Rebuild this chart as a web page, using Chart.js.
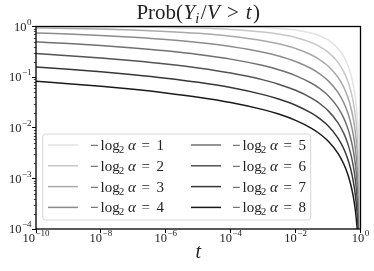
<!DOCTYPE html>
<html><head><meta charset="utf-8">
<script src="https://cdn.jsdelivr.net/npm/chart.js@4.4.0/dist/chart.umd.min.js"></script>
<style>html,body{margin:0;padding:0;background:#fff;}#wrap{width:374px;height:271px;position:relative;}</style>
</head><body><div id="wrap"><canvas id="c" width="374" height="271"></canvas></div>
<script>
// ---- data ----
const tValues = [1e-10,1e-9,1e-8,1e-7,1e-6,1e-5,1e-4,1e-3,3e-3,1e-2,0.03,0.05,0.1,0.2,0.3,0.4,0.5,0.6,0.7,0.8,0.85,0.9,0.95,0.98,0.99];
const probK1 = [0.99998,0.99995,0.99985,0.99953,0.9985,0.9953,0.985,0.9526,0.9179,0.8505,0.7428,0.6702,0.5415,0.3739,0.2606,0.1778,0.1161,0.0705,0.0378,0.0161,0.0089,0.00388,0.00095,0.00015,0.000038];
const probK2 = [0.99605,0.99297,0.9875,0.9778,0.9605,0.9297,0.875,0.7778,0.7076,0.6055,0.4829,0.4148,0.3111,0.1975,0.1304,0.0854,0.054,0.0319,0.0167,0.00697,0.0038,0.00165,0.000395,0.000063,0.0000157];
const probK3 = [0.9367,0.9156,0.8875,0.85,0.7999,0.7332,0.6442,0.5256,0.4559,0.3681,0.2767,0.2307,0.1657,0.1005,0.0645,0.0413,0.0257,0.01495,0.00774,0.0032,0.00174,0.000747,0.000181,0.0000285,0.000007];
const probK4 = [0.748,0.709,0.664,0.612,0.552,0.4826,0.4025,0.3101,0.2611,0.2037,0.1481,0.1215,0.0853,0.0505,0.0319,0.02025,0.01247,0.00721,0.00371,0.00152,0.000826,0.000354,0.0000855,0.0000134,0.0000033];
const probK5 = [0.4978,0.4603,0.4201,0.3768,0.3303,0.2804,0.2267,0.169,0.14,0.1072,0.0766,0.0623,0.0433,0.0253,0.01586,0.01001,0.00614,0.00353,0.00181,0.000742,0.000402,0.000172,0.0000415,0.0000065,0.0000016];
const probK6 = [0.2913,0.2653,0.2384,0.2105,0.1816,0.1516,0.1205,0.0883,0.0725,0.055,0.039,0.0316,0.0218,0.01265,0.0079,0.00497,0.00304,0.00175,0.000896,0.000366,0.000198,0.000085,0.0000205,0.0000032,0.0000008];
const probK7 = [0.1581,0.1428,0.1273,0.1114,0.0953,0.0789,0.0622,0.0451,0.0369,0.0279,0.01965,0.01588,0.01092,0.00632,0.00394,0.00248,0.00152,0.00087,0.000445,0.000182,0.0000985,0.0000422,0.0000101,0.0000016,0.0000004];
const probK8 = [0.0825,0.0742,0.0658,0.0574,0.0488,0.0402,0.0316,0.0228,0.01863,0.014,0.00987,0.00797,0.00547,0.00316,0.00197,0.00124,0.000756,0.000435,0.000222,0.0000906,0.0000488,0.0000209,0.000005,0.0000008,0.0000002];
const seriesKs = ['1','2','3','4','5','6','7','8'];
const xTickExponents = [-10,-8,-6,-4,-2,0];
const yTickExponents = [-4,-3,-2,-1,0];
const yMinorMultipliers = [2,3,4,5,6,7,8,9];

const allSeries = [probK1,probK2,probK3,probK4,probK5,probK6,probK7,probK8];
const grays = ['#e2e2e2','#c6c6c6','#a9a9a9','#8c8c8c','#707070','#535353','#363636','#1a1a1a'];
const SERIF = '"Liberation Serif","DejaVu Serif",serif';

const datasets = allSeries.map((s,i)=>({
  label: '-log2 alpha = ' + seriesKs[i],
  data: tValues.map((t,j)=>({x:t,y:s[j]})),
  borderColor: grays[i], backgroundColor: grays[i],
  borderWidth: 1.5, pointRadius: 0, fill: false,
  cubicInterpolationMode: 'monotone', clip: 0
}));

function drawParts(ctx, parts, x0, baseline, align){
  let total = 0;
  parts.forEach(p=>{ctx.font=p.font; p.w=ctx.measureText(p.text).width; total += p.w + (p.gap||0);});
  let x = align==='center' ? x0 - total/2 : (align==='right' ? x0 - total : x0);
  parts.forEach(p=>{ctx.font=p.font; ctx.fillText(p.text, x, baseline + (p.dy||0)); x += p.w + (p.gap||0);});
}

const decor = {
  id:'decor',
  afterDatasetsDraw(chart){
    const ctx = chart.ctx, a = chart.chartArea;
    const ys = chart.scales.y;
    ctx.save();
    ctx.strokeStyle='#000'; ctx.lineWidth=0.7;
    yTickExponents.slice(0,-1).forEach(e=>{
      yMinorMultipliers.forEach(m=>{
        const py = Math.round(ys.getPixelForValue(m*Math.pow(10,e)))+0.5;
        ctx.beginPath(); ctx.moveTo(a.left, py); ctx.lineTo(a.left-2.2, py); ctx.stroke();
      });
    });
    // legend
    const bx=42.7, by=134, bw=268, bh=86, r=3;
    ctx.beginPath();
    ctx.moveTo(bx+r,by); ctx.lineTo(bx+bw-r,by); ctx.arcTo(bx+bw,by,bx+bw,by+r,r);
    ctx.lineTo(bx+bw,by+bh-r); ctx.arcTo(bx+bw,by+bh,bx+bw-r,by+bh,r);
    ctx.lineTo(bx+r,by+bh); ctx.arcTo(bx,by+bh,bx,by+bh-r,r);
    ctx.lineTo(bx,by+r); ctx.arcTo(bx,by,bx+r,by,r); ctx.closePath();
    ctx.fillStyle='rgba(255,255,255,0.8)'; ctx.fill();
    ctx.strokeStyle='#d6d6d6'; ctx.lineWidth=1; ctx.stroke();
    const rowY=[145,165.8,186.6,207.4];
    const cols=[{l0:48,l1:78,tx:90},{l0:191,l1:221,tx:232}];
    chart.data.datasets.forEach((ds,i)=>{
      const c=cols[Math.floor(i/4)], y=rowY[i%4];
      ctx.strokeStyle=ds.borderColor; ctx.lineWidth=1.5;
      ctx.beginPath(); ctx.moveTo(c.l0,y); ctx.lineTo(c.l1,y); ctx.stroke();
      ctx.fillStyle='#222'; ctx.textBaseline='alphabetic';
      const b=y+5, f='15px '+SERIF, fi='italic 15px '+SERIF, fs='10.5px '+SERIF;
      ctx.font=f; ctx.fillText('\u2212', c.tx, b);
      ctx.fillText('log', c.tx+10.5, b);
      ctx.font=fs; ctx.fillText('2', c.tx+29, b+3);
      ctx.font=fi; ctx.fillText('\u03B1', c.tx+38, b);
      ctx.font=f; ctx.fillText('=', c.tx+51.5, b);
      ctx.fillText(seriesKs[i], c.tx+66.5, b);
    });
    ctx.restore();
  },
  afterDraw(chart){
    const ctx = chart.ctx, a = chart.chartArea;
    const xs = chart.scales.x, ys = chart.scales.y;
    ctx.save();
    ctx.strokeStyle='#000'; ctx.lineWidth=1.3;
    ctx.strokeRect(a.left, a.top, a.right-a.left, a.bottom-a.top);
    ctx.fillStyle='#222'; ctx.textBaseline='alphabetic';
    yTickExponents.forEach(e=>{
      const py = ys.getPixelForValue(Math.pow(10,e));
      const ex = e<0 ? '\u2212'+(-e) : String(e);
      drawParts(ctx,[{text:'10',font:'12.5px '+SERIF,gap:0.5},{text:ex,font:'9px '+SERIF,dy:-6}], a.left-4.5, py+4.2, 'right');
    });
    xTickExponents.forEach(e=>{
      const px = xs.getPixelForValue(Math.pow(10,e));
      const ex = e<0 ? '\u2212'+(-e) : String(e);
      drawParts(ctx,[{text:'10',font:'12.5px '+SERIF,gap:0.5},{text:ex,font:'9px '+SERIF,dy:-6}], px, 242, 'center');
    });
    ctx.font='italic 20px '+SERIF; ctx.textAlign='center';
    ctx.fillText('t', (a.left+a.right)/2, 257.5);
    ctx.textAlign='left';
    const F='21px '+SERIF, FI='italic 21px '+SERIF;
    drawParts(ctx,[
      {text:'Prob(',font:F,gap:0.5},{text:'Y',font:FI},{text:'i',font:'italic 14.5px '+SERIF,dy:4,gap:1.5},
      {text:'/',font:F,gap:0.5},{text:'V',font:FI,gap:7},{text:'>',font:F,gap:7},{text:'t',font:FI,gap:1.5},{text:')',font:F}
    ], (a.left+a.right)/2, 18.5, 'center');
    ctx.restore();
  }
};

new Chart(document.getElementById('c'), {
  type:'line',
  data:{datasets},
  options:{
    responsive:false, devicePixelRatio:1, animation:false,
    layout:{padding:{top:26.5,right:13.5,left:0,bottom:0}},
    plugins:{legend:{display:false},title:{display:false},tooltip:{enabled:false}},
    scales:{
      x:{type:'logarithmic',min:1e-10,max:1,
        afterBuildTicks:(s)=>{s.ticks=xTickExponents.map(e=>({value:Math.pow(10,e),major:true}));},
        afterFit:(s)=>{s.height=42;},
        ticks:{display:false},
        grid:{drawOnChartArea:false,drawTicks:true,tickLength:4,tickColor:'#000',tickWidth:1},
        border:{display:false}},
      y:{type:'logarithmic',min:1e-4,max:1,
        afterBuildTicks:(s)=>{s.ticks=yTickExponents.map(e=>({value:Math.pow(10,e),major:true}));},
        afterFit:(s)=>{s.width=36;},
        ticks:{display:false},
        grid:{drawOnChartArea:false,drawTicks:true,tickLength:4,tickColor:'#000',tickWidth:1},
        border:{display:false}}
    }
  },
  plugins:[decor]
});
</script></body></html>
